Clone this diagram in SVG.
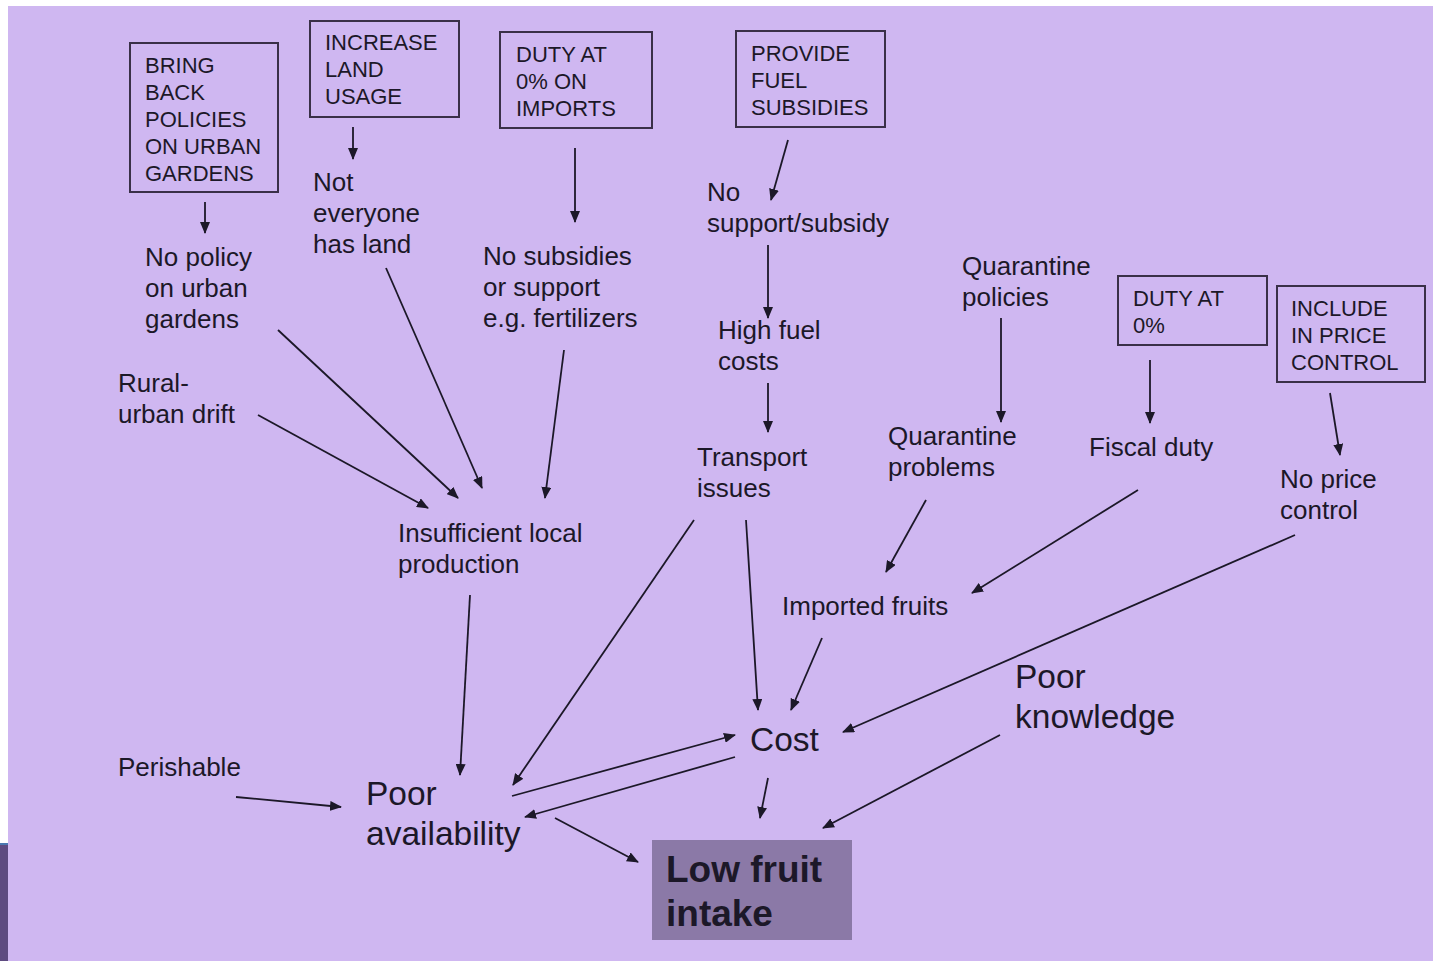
<svg xmlns="http://www.w3.org/2000/svg" width="1433" height="961" viewBox="0 0 1433 961">
<style>
text{font-family:"Liberation Sans",Arial,sans-serif;fill:#1c1828}
.b{font-size:22px}
.m{font-size:26px}
.l{font-size:33.5px}
.box{fill:none;stroke:#3a3048;stroke-width:2}
.c line{stroke:#1c1828;stroke-width:1.8;marker-end:url(#ah)}
</style>
<defs>
<marker id="ah" viewBox="0 0 12 10" refX="11" refY="5" markerWidth="12" markerHeight="10" markerUnits="userSpaceOnUse" orient="auto">
<path d="M0,0 L12,5 L0,10 z" fill="#1c1828"/>
</marker>
</defs>
<rect x="0" y="0" width="1433" height="961" fill="#ffffff"/>
<rect x="8" y="6" width="1425" height="955" fill="#cfb7f1"/>
<rect x="0" y="843" width="8" height="118" fill="#5e4b80"/>
<rect x="0" y="843" width="8" height="2" fill="#4a78b0"/>

<g id="n-bring"><rect class="box" x="130" y="43" width="148" height="149"/>
<text class="b" x="145" y="73">BRING</text><text class="b" x="145" y="100">BACK</text><text class="b" x="145" y="127">POLICIES</text><text class="b" x="145" y="154">ON URBAN</text><text class="b" x="145" y="181">GARDENS</text></g>
<g id="n-increase"><rect class="box" x="310" y="21" width="149" height="96"/>
<text class="b" x="325" y="50">INCREASE</text><text class="b" x="325" y="77">LAND</text><text class="b" x="325" y="104">USAGE</text></g>
<g id="n-duty-imports"><rect class="box" x="500" y="32" width="152" height="96"/>
<text class="b" x="516" y="62">DUTY AT</text><text class="b" x="516" y="89">0% ON</text><text class="b" x="516" y="116">IMPORTS</text></g>
<g id="n-fuel"><rect class="box" x="736" y="31" width="149" height="96"/>
<text class="b" x="751" y="61">PROVIDE</text><text class="b" x="751" y="88">FUEL</text><text class="b" x="751" y="115">SUBSIDIES</text></g>
<g id="n-duty0"><rect class="box" x="1118" y="276" width="149" height="69"/>
<text class="b" x="1133" y="306">DUTY AT</text><text class="b" x="1133" y="333">0%</text></g>
<g id="n-price"><rect class="box" x="1277" y="286" width="148" height="96"/>
<text class="b" x="1291" y="316">INCLUDE</text><text class="b" x="1291" y="343">IN PRICE</text><text class="b" x="1291" y="370">CONTROL</text></g>

<g id="n-nopolicy"><text class="m" x="145" y="266">No policy</text><text class="m" x="145" y="297">on urban</text><text class="m" x="145" y="328">gardens</text></g>
<g id="n-noland"><text class="m" x="313" y="191">Not</text><text class="m" x="313" y="222">everyone</text><text class="m" x="313" y="253">has land</text></g>
<g id="n-nosubs"><text class="m" x="483" y="265">No subsidies</text><text class="m" x="483" y="296">or support</text><text class="m" x="483" y="327">e.g. fertilizers</text></g>
<g id="n-nosupport"><text class="m" x="707" y="201">No</text><text class="m" x="707" y="232">support/subsidy</text></g>
<g id="n-fuelcost"><text class="m" x="718" y="339">High fuel</text><text class="m" x="718" y="370">costs</text></g>
<g id="n-transport"><text class="m" x="697" y="466">Transport</text><text class="m" x="697" y="497">issues</text></g>
<g id="n-qpol"><text class="m" x="962" y="275">Quarantine</text><text class="m" x="962" y="306">policies</text></g>
<g id="n-qprob"><text class="m" x="888" y="445">Quarantine</text><text class="m" x="888" y="476">problems</text></g>
<g id="n-fiscal"><text class="m" x="1089" y="456">Fiscal duty</text></g>
<g id="n-noprice"><text class="m" x="1280" y="488">No price</text><text class="m" x="1280" y="519">control</text></g>
<g id="n-rural"><text class="m" x="118" y="392">Rural-</text><text class="m" x="118" y="423">urban drift</text></g>
<g id="n-insuff"><text class="m" x="398" y="542">Insufficient local</text><text class="m" x="398" y="573">production</text></g>
<g id="n-imported"><text class="m" x="782" y="615">Imported fruits</text></g>
<g id="n-perish"><text class="m" x="118" y="776">Perishable</text></g>
<g id="n-cost"><text class="l" x="750" y="751">Cost</text></g>
<g id="n-knowledge"><text class="l" x="1015" y="688">Poor</text><text class="l" x="1015" y="728">knowledge</text></g>
<g id="n-avail"><text class="l" x="366" y="805">Poor</text><text class="l" x="366" y="845">availability</text></g>
<g id="n-low"><rect x="652" y="840" width="200" height="100" fill="#8b79a7"/>
<text x="666" y="882" style="font-size:37px;font-weight:bold">Low fruit</text><text x="666" y="926" style="font-size:37px;font-weight:bold">intake</text></g>

<g id="connectors" class="c">
<line x1="205" y1="202" x2="205" y2="233"/>
<line x1="353" y1="127" x2="353" y2="159"/>
<line x1="575" y1="148" x2="575" y2="222"/>
<line x1="788" y1="140" x2="771" y2="200"/>
<line x1="768" y1="245" x2="768" y2="318"/>
<line x1="768" y1="383" x2="768" y2="432"/>
<line x1="1001" y1="318" x2="1001" y2="422"/>
<line x1="1150" y1="360" x2="1150" y2="423"/>
<line x1="1330" y1="393" x2="1340" y2="455"/>
<line x1="258" y1="415" x2="428" y2="508"/>
<line x1="278" y1="330" x2="458" y2="498"/>
<line x1="386" y1="268" x2="482" y2="488"/>
<line x1="564" y1="350" x2="545" y2="498"/>
<line x1="926" y1="500" x2="886" y2="572"/>
<line x1="1138" y1="490" x2="972" y2="593"/>
<line x1="746" y1="520" x2="758" y2="710"/>
<line x1="822" y1="638" x2="791" y2="710"/>
<line x1="1295" y1="535" x2="843" y2="732"/>
<line x1="512" y1="796" x2="735" y2="735"/>
<line x1="735" y1="757" x2="525" y2="817"/>
<line x1="694" y1="520" x2="513" y2="785"/>
<line x1="470" y1="595" x2="460" y2="775"/>
<line x1="1000" y1="735" x2="823" y2="828"/>
<line x1="236" y1="797" x2="341" y2="807"/>
<line x1="555" y1="818" x2="638" y2="862"/>
<line x1="768" y1="778" x2="760" y2="818"/>
</g>
</svg>
